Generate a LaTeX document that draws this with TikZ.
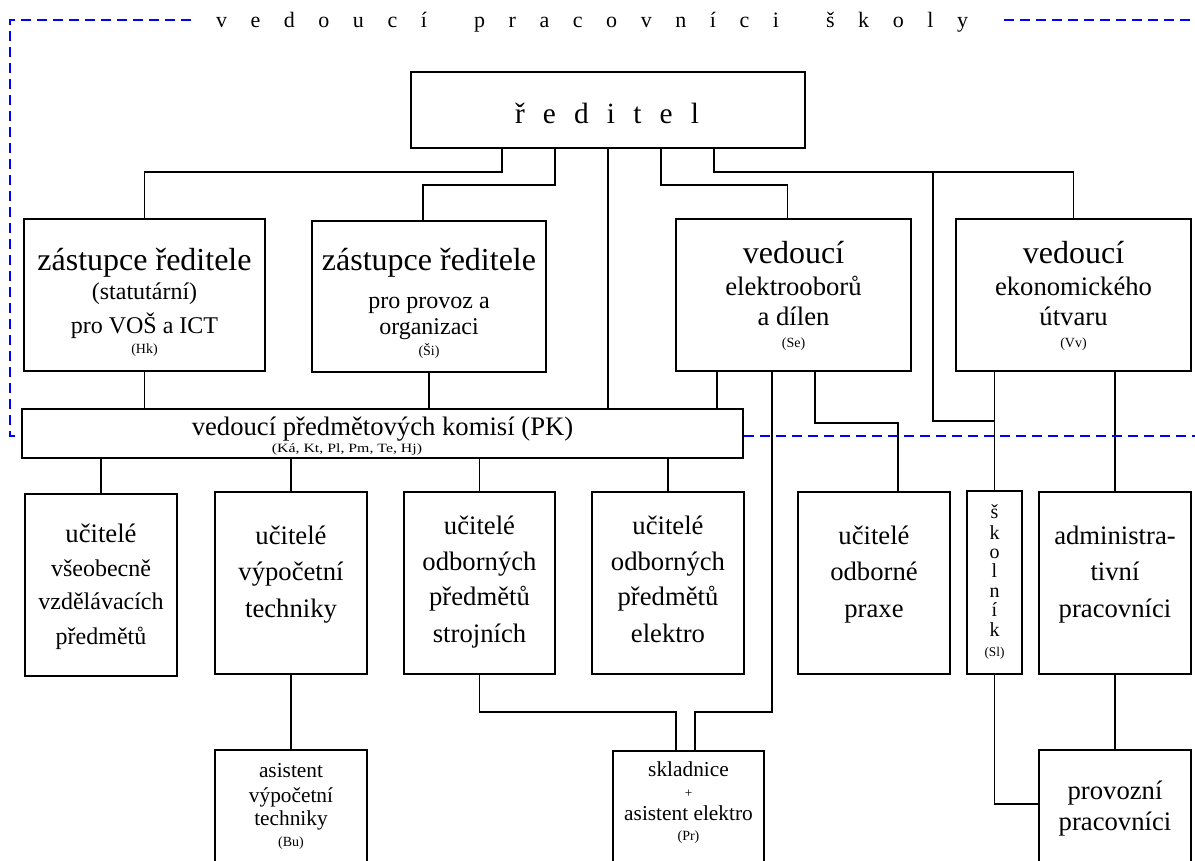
\documentclass[tikz,border=0pt]{standalone}
\usepackage{fontspec}
\usepackage{graphicx}
\setmainfont{Liberation Serif}
\usetikzlibrary{calc,fit}
\newcommand\mytl[5]{\node[anchor=base,inner sep=0pt,font=\fontsize{#4}{#4}\selectfont] (#1) at ({#2},{#3+0.35*#4}) {#5};}
\begin{document}
\begin{tikzpicture}[x=0.75pt,y=-0.75pt,
  box/.style={draw,line width=1.5pt,inner sep=0pt},
  conn/.style={draw,line width=1.3pt},
  bluedash/.style={draw,blue,line width=1.5pt,dash pattern=on 7.5pt off 4.5pt}]
\clip (0,0) rectangle (1195,860);
\fill[white] (0,0) rectangle (1195,860);
% boxes
\node[box,fit={(411,72) (805,148)}] (R) {};
\node[box,fit={(24,219) (265,371)}] (Z1) {};
\node[box,fit={(312,221) (546,372)}] (Z2) {};
\node[box,fit={(676,219) (911,371)}] (VE) {};
\node[box,fit={(956,219) (1191,371)}] (VK) {};
\node[box,fit={(22,409) (743,458)}] (PK) {};
\node[box,fit={(25,494) (177,676)}] (UA) {};
\node[box,fit={(215,492) (367,674)}] (UB) {};
\node[box,fit={(404,492) (555,674)}] (UC) {};
\node[box,fit={(592,492) (744,674)}] (UD) {};
\node[box,fit={(798,492) (950,674)}] (UE) {};
\node[box,fit={(967,491) (1022,674)}] (SK) {};
\node[box,fit={(1039,492) (1191,674)}] (AD) {};
\node[box,fit={(215,750) (367,880)}] (AS) {};
\node[box,fit={(613,751) (764,880)}] (SL) {};
\node[box,fit={(1039,750) (1191,880)}] (PR) {};
% connectors
\draw[conn] ($(R.south)+(-106,0)$) -- ++(0,23) -| (Z1.north);
\draw[conn] ($(R.south)+(-53,0)$) -- ++(0,36) -| ($(Z2.north)+(-6,0)$);
\draw[conn] (R.south) -- (R.south |- PK.north);
\draw[conn] ($(R.south)+(53,0)$) -- ++(0,36) -| ($(VE.north)+(-6,0)$);
\draw[conn] ($(R.south)+(106,0)$) -- ++(0,23) -| (VK.north);
\coordinate (br) at ($(R.south)+(325,23)$);
\draw[conn] (br) |- ($(SK.north)+(0,-69)$);
\draw[conn] (Z1.south) -- (Z1.south |- PK.north);
\draw[conn] (Z2.south) -- (Z2.south |- PK.north);
\draw[conn] ($(VE.south)+(-76.5,0)$) -- ($(VE.south)+(-76.5,38)$);
\draw[conn] ($(VE.south)+(-21.5,0)$) -- ++(0,340) -| ($(SL.north)+(6.5,0)$);
\draw[conn] ($(VE.south)+(21.5,0)$) -- ++(0,51) -| ($(UE.north)+(24,0)$);
\draw[conn] (SK.north |- VK.south) -- (SK.north);
\draw[conn] (AD.north |- VK.south) -- (AD.north);
\foreach \n in {UA,UB,UC,UD} \draw[conn] (\n.north |- PK.south) -- (\n.north);
\draw[conn] (UB.south) -- (AS.north);
\draw[conn] (UC.south) -- ++(0,37) -| ($(SL.north)+(-12.5,0)$);
\draw[conn] (SK.south) |- ($(PR.north west)+(0,55)$);
\draw[conn] (AD.south) -- (PR.north);
% dashed frame
\coordinate (d1) at (191,20); \coordinate (d2) at (10,20); \coordinate (d3) at (10,436);
\draw[bluedash] (d1) -- (d2) -- (d3) -- (PK.west |- d3);
\coordinate (d4) at (1004,20); \coordinate (d5) at (1195,20);
\draw[bluedash] (d4) -- (d5);
\coordinate (d6) at (1195,436);
\draw[bluedash] (PK.east |- d6) -- (d6);
% texts
\node[anchor=base,inner sep=0pt,font=\fontsize{16.5}{16.5}\selectfont] (title) at (592,27.5) {\makebox[564pt][s]{v\hfill e\hfill d\hfill o\hfill u\hfill c\hfill í\hfill\hfill p\hfill r\hfill a\hfill c\hfill o\hfill v\hfill n\hfill í\hfill c\hfill i\hfill\hfill š\hfill k\hfill o\hfill l\hfill y}};
\node[anchor=base,inner sep=0pt,font=\fontsize{22}{22}\selectfont] (rtxt) at (607,123) {\makebox[138pt][s]{ř\hfill e\hfill d\hfill i\hfill t\hfill e\hfill l}};
\mytl{z1a}{144.5}{262}{24}{zástupce ředitele}
\mytl{z1b}{144.5}{293}{18}{(statutární)}
\mytl{z1c}{144.5}{327}{18}{pro VOŠ a ICT}
\mytl{z1d}{144.5}{350}{10.5}{(Hk)}
\mytl{z2a}{429}{262}{24}{zástupce ředitele}
\mytl{z2b}{429}{302}{18}{pro provoz a}
\mytl{z2c}{429}{328}{18}{organizaci}
\mytl{z2d}{429}{352}{10.5}{(Ši)}
\mytl{vea}{793.5}{255}{24}{vedoucí}
\mytl{veb}{793.5}{288}{20}{elektrooborů}
\mytl{vec}{793.5}{318}{20}{a dílen}
\mytl{ved}{793.5}{344}{10.5}{(Se)}
\mytl{vka}{1073.5}{255}{24}{vedoucí}
\mytl{vkb}{1073.5}{288}{20}{ekonomického}
\mytl{vkc}{1073.5}{318}{20}{útvaru}
\mytl{vkd}{1073.5}{344}{10.5}{(Vv)}
\mytl{pka}{382.5}{428}{20}{vedoucí předmětových komisí (PK)}
\mytl{pkb}{347}{449}{9.5}{\scalebox{1.25}[1]{(Ká, Kt, Pl, Pm, Te, Hj)}}
\mytl{uaa}{101}{535}{20}{učitelé}
\mytl{uab}{101}{570}{18}{všeobecně}
\mytl{uac}{101}{603}{18}{vzdělávacích}
\mytl{uad}{101}{638}{18}{předmětů}
\mytl{uba}{291}{537}{20}{učitelé}
\mytl{ubb}{291}{573}{20}{výpočetní}
\mytl{ubc}{291}{610}{20}{techniky}
\mytl{uca}{479.5}{527}{20}{učitelé}
\mytl{ucb}{479.5}{563}{20}{odborných}
\mytl{ucc}{479.5}{598}{20}{předmětů}
\mytl{ucd}{479.5}{635}{20}{strojních}
\mytl{uda}{668}{527}{20}{učitelé}
\mytl{udb}{668}{563}{20}{odborných}
\mytl{udc}{668}{598}{20}{předmětů}
\mytl{udd}{668}{635}{20}{elektro}
\mytl{uea}{874}{537}{20}{učitelé}
\mytl{ueb}{874}{573}{20}{odborné}
\mytl{uec}{874}{610}{20}{praxe}
\mytl{ska}{994.5}{513}{15}{š}
\mytl{skb}{994.5}{534}{15}{k}
\mytl{skc}{994.5}{553}{15}{o}
\mytl{skd}{994.5}{572}{15}{l}
\mytl{ske}{994.5}{592}{15}{n}
\mytl{skf}{994.5}{611}{15}{í}
\mytl{skg}{994.5}{631}{15}{k}
\mytl{skh}{994.5}{653}{10}{(Sl)}
\mytl{ada}{1115}{537}{20}{administra-}
\mytl{adb}{1115}{573}{20}{tivní}
\mytl{adc}{1115}{610}{20}{pracovníci}
\mytl{asa}{291}{772}{16}{asistent}
\mytl{asb}{291}{797}{16}{výpočetní}
\mytl{asc}{291}{820}{16}{techniky}
\mytl{asd}{291}{843}{10.5}{(Bu)}
\mytl{sla}{688.5}{771}{16}{skladnice}
\mytl{slb}{688.5}{794}{10}{+}
\mytl{slc}{688.5}{815}{16}{asistent elektro}
\mytl{sld}{688.5}{837}{10.5}{(Pr)}
\mytl{pra}{1115}{792}{20}{provozní}
\mytl{prb}{1115}{823}{20}{pracovníci}
\end{tikzpicture}
\end{document}
